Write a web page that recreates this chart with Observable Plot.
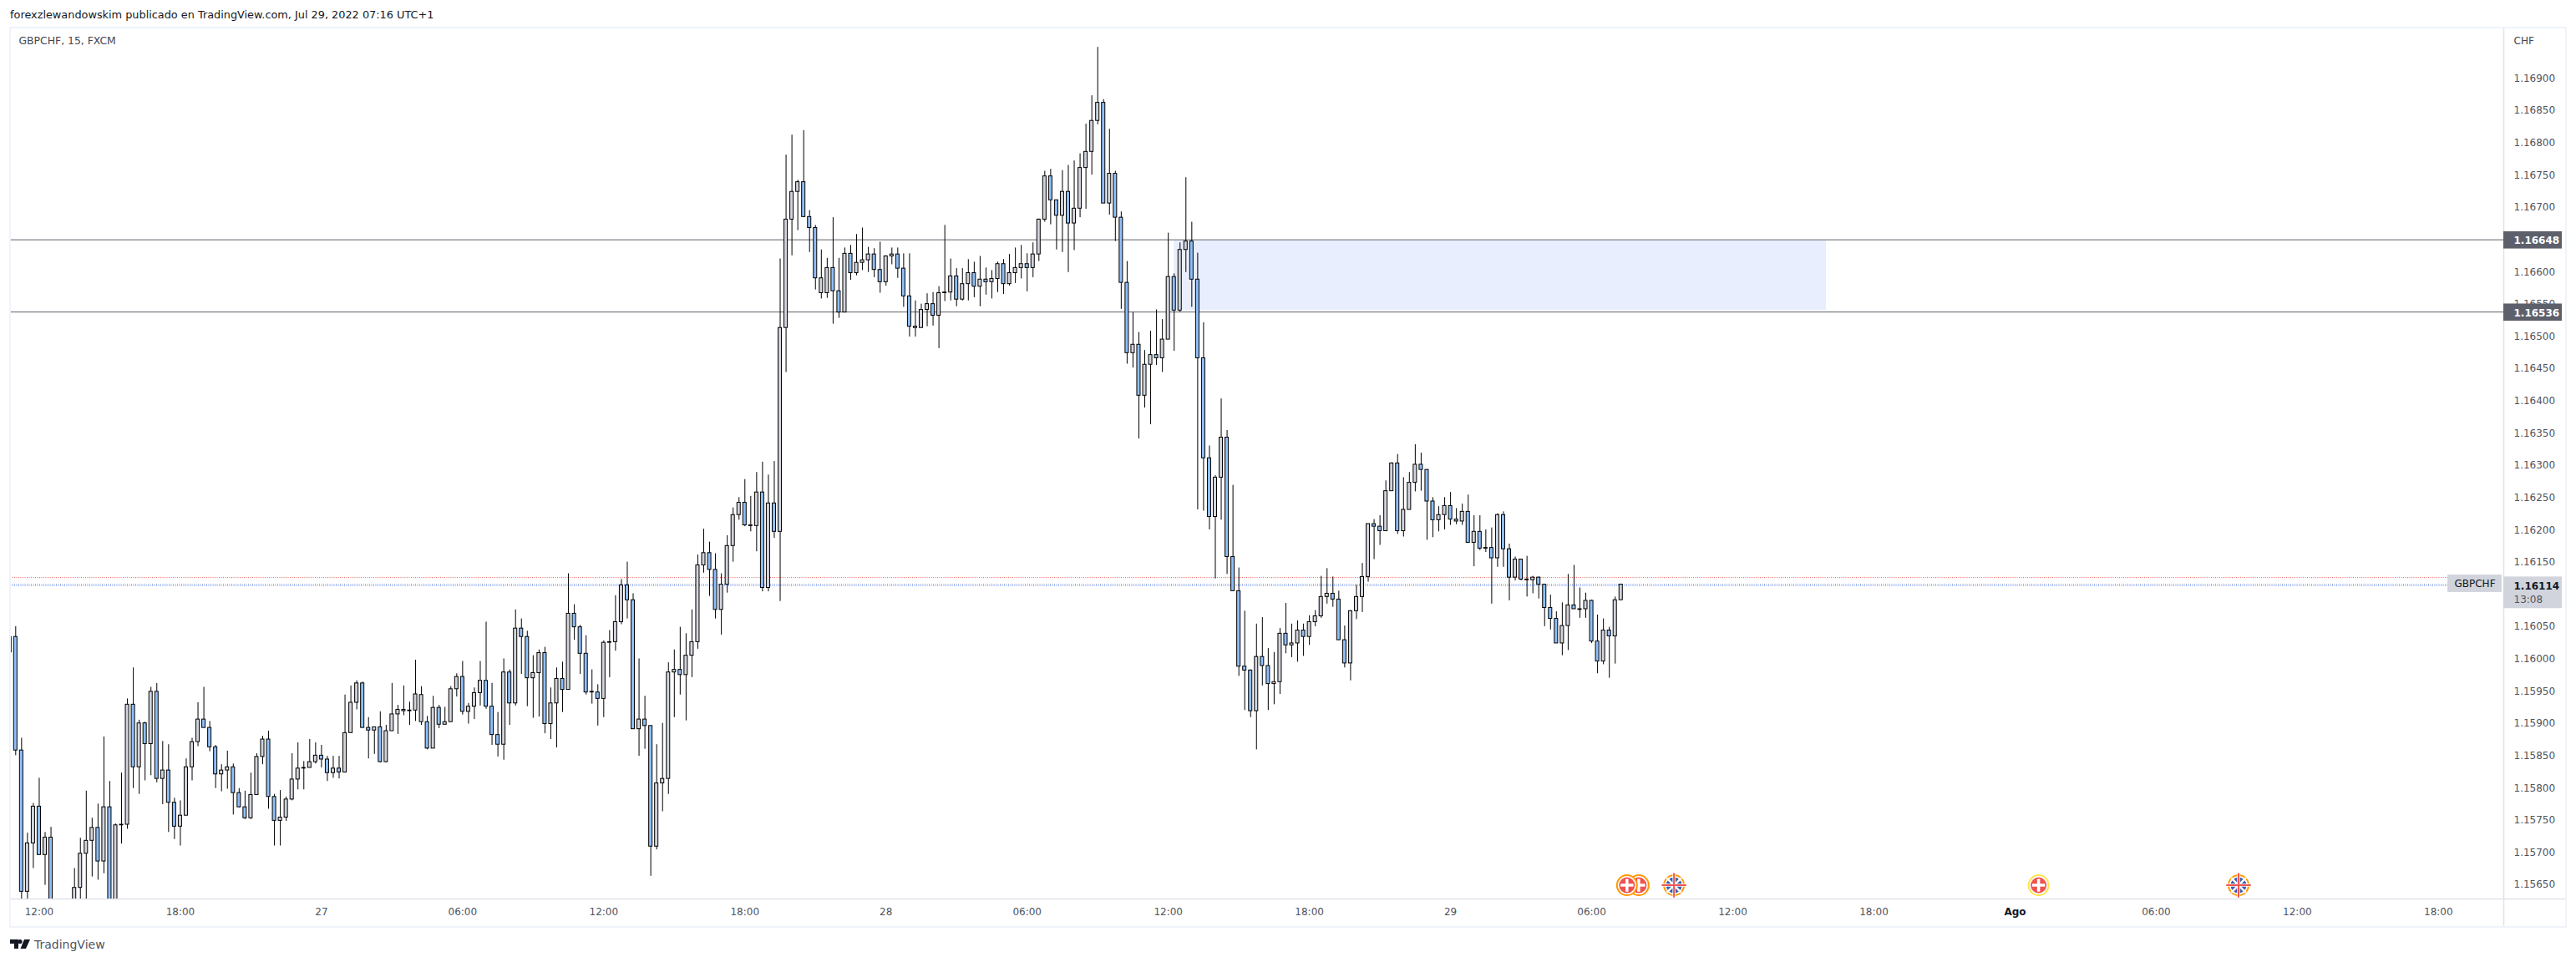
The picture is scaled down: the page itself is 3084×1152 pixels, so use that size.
<!DOCTYPE html>
<html><head><meta charset="utf-8">
<script src="https://cdn.jsdelivr.net/npm/d3@7"></script>
<script src="https://cdn.jsdelivr.net/npm/@observablehq/plot@0.6"></script>
<style>
html,body{margin:0;padding:0;background:#fff;width:3084px;height:1152px;overflow:hidden;font-family:"DejaVu Sans",sans-serif}
#head{height:33px;line-height:36px;padding-left:12px;font-size:12.85px;color:#131722;white-space:nowrap}
#chart{height:1076px;position:relative}
#chart svg{display:block;overflow:visible}
#box{position:absolute;left:11px;top:32px;width:3058px;height:1075px;border:2px solid #f0f3fa;pointer-events:none}
#foot{height:43px;padding-left:12px;display:flex;align-items:center;gap:5px;font-size:14px;color:#50535e}
</style></head><body>
<div id="head">forexzlewandowskim publicado en TradingView.com, Jul 29, 2022 07:16 UTC+1</div>
<div id="chart"></div>
<div id="box"></div>
<div id="foot"><svg width="24" height="12" viewBox="0 0 24 12"><path fill="#131722" d="M0 0h10v11H5V5H0zM12 0a2.6 2.6 0 1 1 0 5.2 2.6 2.6 0 0 1 0-5.2zM17 0h7l-5 11h-6.500z"/></svg><span>TradingView</span></div>
<script>
// Candles as [open, high, low, close] in units of 0.00001 CHF, GBPCHF 15 min.
const firstIndex = -1;
const session26 = [
[116009,116033,116009,116033],[116033,116049,115849,115857],[115857,115876,115622,115638],[115638,115729,115622,115713],[115713,115775,115674,115770],
[115770,115814,115695,115695],[115695,115730,115648,115722],[115722,115738,115596,115605],[115605,115625,115575,115590],[115590,115615,115570,115600],
[115600,115620,115580,115598],[115618,115674,115600,115644],[115644,115721,115622,115697],[115697,115794,115622,115717],[115717,115752,115661,115737],
[115737,115774,115656,115685],[115685,115878,115666,115769],[115769,115809,115605,115613],[115613,115743,115609,115741],[115741,115822,115712,115742],
[115742,115937,115735,115928],[115928,115985,115798,115831],[115831,115904,115789,115899],[115899,115901,115810,115867],[115867,115955,115818,115948],
[115948,115961,115807,115813],[115813,115871,115773,115826],[115826,115866,115730,115776],[115776,115783,115719,115739],[115739,115779,115709,115756],
[115756,115844,115756,115831],[115831,115876,115810,115870],[115870,115931,115863,115905],[115905,115955,115892,115892],[115892,115902,115855,115862],
[115862,115865,115798,115820],[115820,115835,115793,115826],[115826,115856,115797,115831],[115831,115836,115757,115791],[115791,115798,115768,115769],
[115769,115794,115750,115752],[115752,115822,115750,115788],[115788,115852,115788,115847],[115847,115879,115835,115874],[115874,115887,115766,115785],
[115785,115789,115709,115748],[115748,115795,115709,115753],[115753,115785,115747,115781],[115781,115852,115779,115812],[115812,115869,115796,115829],
[115829,115840,115796,115830],[115830,115874,115830,115839],[115839,115869,115836,115849]
];
const session27 = [
[115849,115865,115830,115843],[115843,115848,115809,115822],[115822,115848,115814,115829],[115829,115848,115813,115823],[115823,115943,115822,115884],
[115884,115957,115884,115931],[115931,115965,115920,115961],[115961,115963,115892,115892],[115892,115908,115844,115888],[115888,115893,115851,115893],
[115893,115917,115838,115839],[115839,115896,115838,115887],[115887,115961,115887,115913],[115913,115927,115882,115920],[115920,115957,115911,115918],
[115918,115932,115896,115919],[115919,115997,115902,115944],[115901,115956,115896,115943],[115901,115910,115858,115860],[115860,115941,115860,115923],
[115923,115927,115891,115897],[115897,115924,115897,115901],[115901,115956,115901,115952],[115952,115976,115940,115971],[115971,115995,115912,115917],
[115917,115930,115898,115925],[115925,115954,115905,115946],[115946,115995,115926,115965],[115965,116056,115921,115925],[115925,115961,115865,115881],
[115881,115916,115847,115866],[115866,115999,115842,115978],[115978,115982,115896,115930],[115930,116075,115926,116046],[116046,116061,115975,116033],
[116033,116042,115925,115969],[115969,116004,115907,115977],[115977,116013,115909,116008],[116008,116017,115883,115898],[115898,115954,115874,115930],
[115930,115985,115861,115968],[115968,115994,115916,115951],[115951,116131,115951,116069],[116069,116083,116028,116048],[116048,116051,115975,116007],
[116007,116035,115943,115947],[115947,115982,115929,115948],[115947,115959,115895,115937],[115937,116027,115908,116024],[116024,116043,115970,116025],
[116025,116097,116011,116056],[116056,116122,116052,116113],[116113,116149,116061,116090],[116090,116100,115890,115890],[115890,115999,115848,115905],
[115905,115941,115859,115895],[115895,115895,115662,115708],[115708,115866,115703,115806],[115806,115899,115762,115813],[115813,115993,115789,115978],
[115978,116013,115908,115982],[115982,116048,115943,115974],[115974,116038,115903,116004],[116004,116075,115970,116025],[116025,116160,116014,116144],
[116144,116200,116132,116163],[116163,116180,116096,116137],[116137,116162,116061,116075],[116075,116131,116036,116114],[116114,116190,116101,116174],
[116174,116233,116149,116222],[116222,116249,116214,116241],[116241,116277,116204,116206],[116206,116251,116196,116205],[116205,116288,116165,116257],
[116257,116304,116103,116109],[116109,116284,116103,116240],[116240,116305,116186,116196],[116196,116619,116088,116512],[116512,116780,116443,116680],
[116680,116811,116624,116723],[116723,116741,116663,116738],[116738,116818,116683,116684],[116684,116694,116629,116667],[116667,116671,116571,116589],
[116566,116633,116557,116589],[116566,116620,116558,116605],[116605,116683,116518,116569],[116569,116620,116527,116536],[116536,116636,116536,116627],
[116627,116640,116586,116597],[116597,116657,116593,116613],[116613,116667,116601,116617],[116617,116637,116598,116626],[116626,116635,116590,116602],
[116602,116645,116566,116583]
];
const session28 = [
[116583,116624,116577,116623],[116623,116636,116610,116626],[116626,116636,116589,116604],[116604,116627,116544,116561],[116561,116627,116498,116514],
[116512,116554,116498,116514],[116512,116549,116512,116540],[116540,116565,116514,116549],[116549,116567,116515,116531],[116531,116576,116480,116566],
[116566,116671,116553,116567],[116567,116619,116554,116592],[116592,116604,116545,116556],[116556,116604,116554,116580],[116580,116618,116554,116597],
[116597,116614,116559,116576],[116576,116623,116545,116587],[116587,116605,116563,116583],[116583,116601,116557,116588],[116588,116614,116567,116611],
[116611,116618,116564,116580],[116580,116626,116577,116597],[116597,116636,116581,116605],[116605,116640,116588,116611],[116611,116627,116568,116605],
[116605,116644,116590,116626],[116626,116681,116615,116680],[116680,116755,116676,116747],[116747,116758,116672,116710],[116710,116710,116633,116686],
[116686,116756,116629,116723],[116723,116764,116598,116674],[116674,116771,116632,116697],[116697,116782,116683,116760],[116760,116828,116696,116785],
[116785,116872,116749,116833],[116833,116947,116827,116861],[116861,116866,116705,116705],[116705,116820,116687,116751],[116751,116755,116646,116683],
[116683,116692,116541,116582],[116582,116615,116456,116473],[116473,116536,116450,116486],[116486,116505,116340,116407],[116407,116477,116388,116455],
[116455,116507,116362,116470],[116470,116540,116454,116465],[116465,116525,116443,116494],[116494,116659,116494,116591],[116591,116596,116476,116539],
[116539,116644,116536,116633],[116633,116745,116598,116646],[116646,116676,116544,116587],[116587,116628,116230,116465],[116465,116520,116228,116310],
[116310,116329,116199,116219],[116219,116283,116123,116280],[116280,116402,116214,116342],[116342,116353,116130,116157],[116157,116268,116104,116104],
[116104,116140,115972,115987],[115987,116073,115919,115981],[115981,115982,115908,115918],[115918,116053,115858,116002],[116002,116063,115957,115988],
[115988,116015,115919,115960],[115960,116009,115928,115963],[115963,116046,115944,116038],[116038,116085,116007,116020],[116020,116053,116001,116023],
[116023,116058,115994,116043],[116043,116053,116003,116033],[116033,116066,116020,116056],[116056,116074,116049,116065],[116065,116127,116062,116095],
[116095,116139,116084,116100],[116100,116126,116079,116091],[116091,116104,116028,116028],[116028,116050,115985,115992],[115992,116074,115965,116073],
[116073,116113,116060,116095],[116095,116147,116071,116126],[116126,116208,116118,116208],[116208,116215,116153,116204],[116204,116221,116175,116197],
[116197,116275,116197,116259],[116259,116303,116259,116302],[116302,116316,116192,116197],[116197,116280,116188,116230],[116230,116288,116230,116272],
[116272,116331,116258,116300],[116300,116318,116259,116292],[116292,116292,116183,116243],[116243,116249,116187,116214],[116214,116235,116196,116222],
[116222,116249,116199,116236]
];
const session29 = [
[116236,116257,116206,116215],[116215,116232,116207,116212],[116212,116239,116206,116227],[116227,116253,116179,116179],[116179,116221,116142,116196],
[116196,116221,116167,116170],[116170,116199,116164,116171],[116171,116202,116084,116155],[116155,116224,116141,116222],[116222,116227,116141,116169],
[116169,116177,116089,116125],[116125,116157,116120,116153],[116153,116153,116120,116122],[116122,116158,116095,116121],[116121,116127,116100,116125],
[116125,116126,116092,116114],[116114,116114,116049,116078],[116078,116098,116044,116061],[116061,116072,116023,116023],[116023,116086,116004,116050],
[116050,116130,116012,116082],[116082,116144,116076,116076],[116076,116109,116062,116075],[116076,116101,116062,116089],[116089,116090,116023,116026],
[116026,116067,115976,115995],[115995,116061,115990,116043],[116043,116048,115969,116034],[116034,116095,115991,116090],[116090,116115,116090,116114]
];

const priceTicks = [1.1565,1.157,1.1575,1.158,1.1585,1.159,1.1595,1.16,1.1605,1.161,1.1615,1.162,1.1625,1.163,1.1635,1.164,1.1645,1.165,1.1655,1.166,1.1665,1.167,1.1675,1.168,1.1685,1.169];
const timeTickIndex = [4,28,52,76,100,124,148,172,196,220,244,268,292,316,340,364,388,412];
const timeLabels = ["12:00","18:00","27","06:00","12:00","18:00","28","06:00","12:00","18:00","29","06:00","12:00","18:00","Ago","06:00","12:00","18:00"];
const levels = [1.16648, 1.16536];
const zone = {from: 197, to: 307.9, top: 1.16647, bottom: 1.16539};
const lastPrice = 1.16114;
const dottedLevels = [{p: 1.16125, c: "#ef5350"}, {p: 1.16115, c: "#c3c7d2"}, {p: 1.16113, c: "#2962ff"}];
const swissEvents = [{i: 276, ring: "#ff9800"}, {i: 274, ring: "#ff9800"}, {i: 344, ring: "#ffe34d"}];
const ukEvents = [282, 378];
const eventPrice = 1.15648;

const candles = [...session26, ...session27, ...session28, ...session29].map((c, k) => ({
  i: firstIndex + k, open: c[0] / 1e5, high: c[1] / 1e5, low: c[2] / 1e5, close: c[3] / 1e5
}));

const xMin = -0.895, xMax = 423.1, yMin = 1.156268, yMax = 1.16977;
const FONT = "DejaVu Sans";
const GREY = "#50535e";
const half = 0.285;

const plot = Plot.plot({
  width: 3084, height: 1076,
  marginLeft: 12, marginRight: 87, marginTop: 0, marginBottom: 33,
  style: {fontFamily: FONT, fontSize: "12px", background: "#fff", overflow: "visible"},
  x: {type: "linear", domain: [xMin, xMax]},
  y: {type: "linear", domain: [yMin, yMax]},
  marks: [
    // price and time axes
    Plot.axisY({anchor: "right", ticks: priceTicks, tickFormat: d => d.toFixed(5), tickSize: 0, tickPadding: 12, label: null, fill: GREY, dy: 1, fontSize: 12}),
    Plot.axisX({ticks: timeTickIndex, tickFormat: v => timeLabels[timeTickIndex.indexOf(v)], tickSize: 0, tickPadding: 11, label: null, fill: GREY, fontSize: 12}),
    Plot.ruleX([xMax], {y1: yMax, y2: yMin - 0.000425, stroke: "#e0e3eb", strokeWidth: 1.5}),
    Plot.ruleY([yMin], {x1: xMin, x2: xMax + 10.5, stroke: "#e0e3eb", strokeWidth: 1.5}),
    // zone and levels
    Plot.rect([zone], {x1: "from", x2: "to", y1: "bottom", y2: "top", fill: "#e8eefd", clip: true}),
    Plot.ruleY(levels, {x1: xMin, x2: xMax, stroke: "#5d606b", strokeWidth: 1, dy: -0.5}),
    Plot.ruleY(dottedLevels, {y: "p", x1: xMin, x2: 413.6, stroke: "c", strokeWidth: 1, strokeDasharray: "1 1.5"}),
    // candles
    Plot.ruleX(candles, {x: "i", y1: "low", y2: "high", stroke: "#000", strokeWidth: 1, clip: true}),
    Plot.rect(candles, {
      x1: d => d.i - half, x2: d => d.i + half, y1: "open", y2: "close",
      fill: d => d.close < d.open ? "#90bff9" : "#d1d4dc",
      stroke: "#000", strokeWidth: 1, clip: true
    }),
    // events: each icon's layers are drawn together so a nearer icon covers the one behind it
    ...swissEvents.flatMap(e => [
      Plot.dot([e], {x: "i", y: () => eventPrice, r: 12, fill: "#fff", stroke: "ring", strokeWidth: 2}),
      Plot.dot([e], {x: "i", y: () => eventPrice, r: 9.5, fill: "#ef5350"}),
      Plot.dot([e], {x: "i", y: () => eventPrice, r: 5, symbol: "plus", stroke: "#fff", strokeWidth: 3.5})
    ]),
    Plot.dot(ukEvents, {x: d => d, y: () => eventPrice, r: 12, fill: "#fff", stroke: "#ff9800", strokeWidth: 2}),
    Plot.dot(ukEvents, {x: d => d, y: () => eventPrice, r: 9.5, fill: "#3d5cab"}),
    Plot.dot(ukEvents, {x: d => d, y: () => eventPrice, r: 8, symbol: "times", stroke: "#fff", strokeWidth: 2.5}),
    Plot.dot(ukEvents, {x: d => d, y: () => eventPrice, r: 9.5, symbol: "plus", stroke: "#fff", strokeWidth: 3.5}),
    Plot.dot(ukEvents, {x: d => d, y: () => eventPrice, r: 9.5, symbol: "plus", stroke: "#ef5350", strokeWidth: 2}),
    // price tags
    Plot.rect(levels, {x1: xMax, x2: xMax + 9.95, y1: d => d - 0.000135, y2: d => d + 0.000132, fill: "#5d606b"}),
    Plot.text(levels, {x: xMax, y: d => d, dx: 12, dy: 1, text: d => d.toFixed(5), textAnchor: "start", fill: "#fff", fontWeight: "bold", fontSize: 12}),
    Plot.rect([lastPrice], {x1: xMax, x2: xMax + 9.95, y1: d => d - 0.00037, y2: d => d + 0.00012, fill: "#d1d4dc"}),
    Plot.text([lastPrice], {x: xMax, y: d => d, dx: 12, dy: 2, text: d => d.toFixed(5), textAnchor: "start", fill: "#131722", fontWeight: "bold", fontSize: 12}),
    Plot.text(["13:08"], {x: xMax, y: lastPrice, dx: 12, dy: 18, text: d => d, textAnchor: "start", fill: GREY, fontSize: 12}),
    Plot.rect(["GBPCHF"], {x1: 413.6, x2: 422.8, y1: 1.16102, y2: 1.16129, fill: "#d1d4dc"}),
    Plot.text(["GBPCHF"], {x: 418.2, y: 1.161155, text: d => d, fill: "#131722", fontSize: 12}),
    // labels
    Plot.text(["GBPCHF, 15, FXCM"], {frameAnchor: "top-left", dx: 10, dy: 11, text: d => d, fill: "#434651", fontSize: 12.4, lineAnchor: "top"}),
    Plot.text(["CHF"], {x: xMax, frameAnchor: "top", dx: 12, dy: 11, text: d => d, textAnchor: "start", fill: "#434651", fontSize: 12, lineAnchor: "top"})
  ]
});
d3.select(plot).selectAll("text").filter(function () { return this.textContent === "Ago"; })
  .attr("font-weight", "bold").attr("fill", "#131722");
document.getElementById("chart").appendChild(plot);
</script>
</body></html>
